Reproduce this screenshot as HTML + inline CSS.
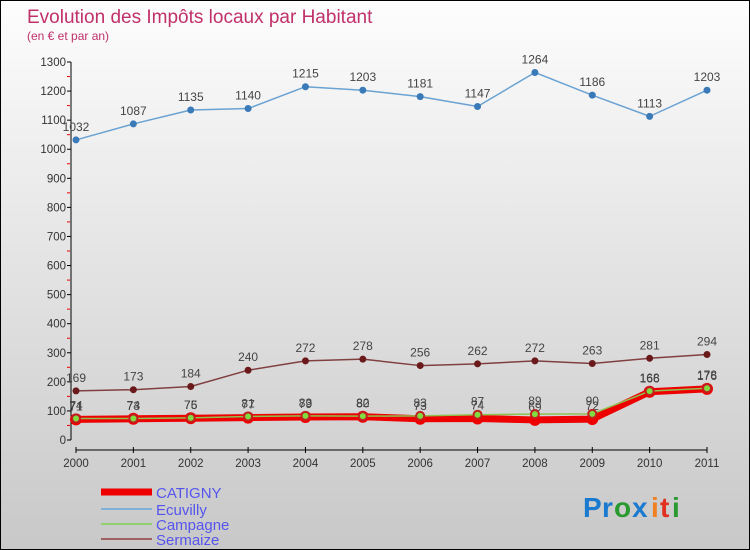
<!DOCTYPE html>
<html><head><meta charset="utf-8"><style>
body{margin:0;}
#c{position:relative;width:748px;height:548px;border:1px solid #000;background:linear-gradient(#fdfdfd,#c8c8c8);font-family:"Liberation Sans",sans-serif;overflow:hidden}
text{font-family:"Liberation Sans",sans-serif}
</style></head><body>
<div id="c">
<svg id="s" width="748" height="548">
<text x="26" y="22" font-size="19" fill="#c0306a">Evolution des Impôts locaux par Habitant</text>
<text x="26" y="39" font-size="12" fill="#c0306a">(en € et par an)</text>
<g id="axes"></g><g id="series"></g>
<g id="legend">
<line x1="100" y1="491" x2="151" y2="491" stroke="#e00" stroke-width="7"/>
<text x="155" y="497" font-size="15" fill="#5555ee">CATIGNY</text>
<line x1="100" y1="508" x2="151" y2="508" stroke="#7fb0d8" stroke-width="2"/>
<text x="155" y="514" font-size="15" fill="#5555ee">Ecuvilly</text>
<line x1="100" y1="523" x2="151" y2="523" stroke="#90d070" stroke-width="2"/>
<text x="155" y="529" font-size="15" fill="#5555ee">Campagne</text>
<line x1="100" y1="538" x2="151" y2="538" stroke="#a06060" stroke-width="2"/>
<text x="155" y="544" font-size="15" fill="#5555ee">Sermaize</text>
</g>
<g font-size="28" font-weight="bold">
<text x="582" y="516" fill="#1a7ad0">P</text><text x="601" y="516" fill="#1a7ad0">r</text><text x="613" y="516" fill="#2a9a30">o</text><text x="631" y="516" fill="#1a7ad0">x</text><text x="650" y="516" fill="#f08020">i</text><text x="659" y="516" fill="#e03020">t</text><text x="671" y="516" fill="#2a9a30">i</text>
</g>
</svg></div>
<script>
const years=[2000,2001,2002,2003,2004,2005,2006,2007,2008,2009,2010,2011];
const ecuvilly=[1032,1087,1135,1140,1215,1203,1181,1147,1264,1186,1113,1203];
const sermaize=[169,173,184,240,272,278,256,262,272,263,281,294];
const campagne=[74,74,76,81,83,82,83,87,89,90,168,178];
const catigny=[71,73,75,77,79,80,73,74,69,72,166,176];
const yTicks=[0,100,200,300,400,500,600,700,800,900,1000,1100,1200,1300];
const NS='http://www.w3.org/2000/svg';
const X=i=>75+i*(706-75)/11;
const Y=v=>439-v*(378/1300);
function mk(t,a,p){const e=document.createElementNS(NS,t);for(const k in a)e.setAttribute(k,a[k]);p.appendChild(e);return e;}
const ax=document.getElementById('axes'),sg=document.getElementById('series');
let e=mk('line',{x1:70,y1:Y(1300),x2:70,y2:Y(0),stroke:'#000'},ax);


yTicks.forEach(v=>{
 let t=mk('line',{x1:66,x2:70,y1:Y(v),y2:Y(v),stroke:'#000'},ax);
 
 
 if(v<1300){let m=mk('line',{x1:66,x2:69,y1:Y(v+50),y2:Y(v+50),stroke:'#e00'},ax);
 
 }
 let l=mk('text',{x:65,y:Y(v)+4,'font-size':11.5,'text-anchor':'end',fill:'#333'},ax);l.textContent=v;
 
 
});
e=mk('line',{x1:X(0),y1:449,x2:X(11),y2:449,stroke:'#000'},ax);


years.forEach((y,i)=>{
 let t=mk('line',{x1:X(i),x2:X(i),y1:446,y2:452,stroke:'#000'},ax);
 
 
 let l=mk('text',{x:X(i),y:466,'font-size':11.5,'text-anchor':'middle',fill:'#333'},ax);l.textContent=y;
 
 
});
function series(d,name,color,w,dot,dr,dotStroke){
 const g=mk('g',{},sg);
 
 
 const p=mk('polyline',{points:d.map((v,i)=>X(i)+','+Y(v)).join(' '),fill:'none',stroke:color,'stroke-width':w,'stroke-linejoin':'round'},g);
 
 
 d.forEach((v,i)=>{
  const c=mk('circle',{cx:X(i),cy:Y(v),r:dr,fill:dot,stroke:dotStroke||'none','stroke-width':2},g);
  
  
  const t=mk('text',{x:X(i),y:Y(v)-9,'font-size':12,'text-anchor':'middle',fill:'#444'},g);t.textContent=v;
  
  
 });
}
series(ecuvilly,'ecuvilly','#6aa2d2',1.5,'#3a7ab8',3.5);
series(sermaize,'sermaize','#804040',1.5,'#6a1a1a',3.5);
series(catigny,'catigny','#e00',7,'#e00',6);
series(campagne,'campagne','#90c050',1.5,'#80dd40',4,'#c02020');
</script>
</body></html>
